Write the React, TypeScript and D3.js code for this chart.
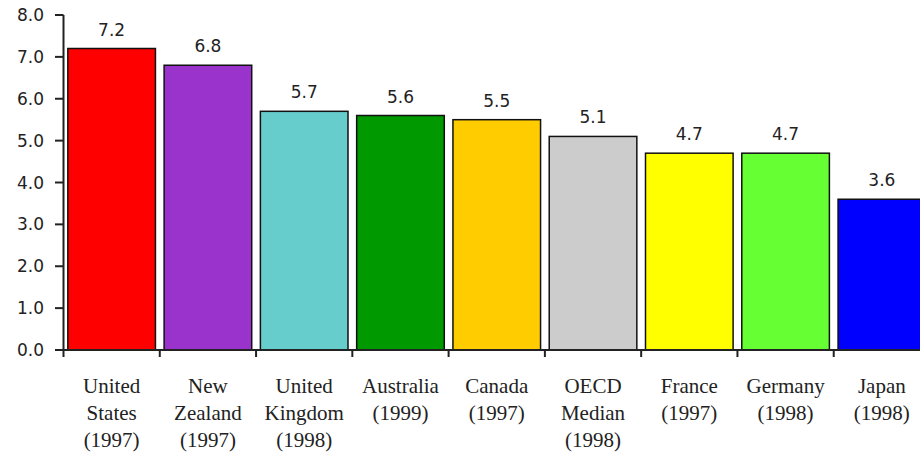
import React from "react";
import * as d3 from "d3";

const countries = [
  ["United", "States", "(1997)"],
  ["New", "Zealand", "(1997)"],
  ["United", "Kingdom", "(1998)"],
  ["Australia", "(1999)"],
  ["Canada", "(1997)"],
  ["OECD", "Median", "(1998)"],
  ["France", "(1997)"],
  ["Germany", "(1998)"],
  ["Japan", "(1998)"],
];
const values = [7.2, 6.8, 5.7, 5.6, 5.5, 5.1, 4.7, 4.7, 3.6];
const barColors = [
  "#ff0000", "#9933cc", "#66cccc", "#009900", "#ffcc00",
  "#cccccc", "#ffff00", "#66ff33", "#0000ff",
];
const yTicks = [0, 1, 2, 3, 4, 5, 6, 7, 8];

const W = 920;
const H = 460;

export default function App() {
  const keys = countries.map((c) => c.join(" "));
  const x = d3.scaleBand().domain(keys).range([63.5, 930]).paddingInner(0.09).paddingOuter(0.045);
  const y = d3.scaleLinear().domain([0, 8]).range([350, 15]);
  const gap = (x.step() - x.bandwidth()) / 2;
  const bounds = keys.map((k) => (x(k) as number) - gap);
  bounds.push((x(keys[keys.length - 1]) as number) + x.bandwidth() + gap);
  const axisColor = "#222";

  return (
    <svg width={W} height={H} style={{ position: "fixed", left: 0, top: 0, background: "#fff" }}>
      {/* bars */}
      {keys.map((k, i) => (
        <g key={k}>
          <rect
            x={x(k)}
            y={y(values[i])}
            width={x.bandwidth()}
            height={y(0) - y(values[i])}
            fill={barColors[i]}
            stroke="#111"
            strokeWidth={1.5}
          />
          <text
            x={(x(k) as number) + x.bandwidth() / 2}
            y={y(values[i]) - 13}
            textAnchor="middle"
            fontFamily="DejaVu Sans"
            fontSize={17}
            fill={axisColor}
          >
            {values[i].toFixed(1)}
          </text>
          {countries[i].map((line, j) => (
            <text
              key={j}
              x={(x(k) as number) + x.bandwidth() / 2}
              y={393 + j * 27}
              textAnchor="middle"
              fontFamily="Liberation Serif"
              fontSize={21}
              fill={axisColor}
            >
              {line}
            </text>
          ))}
        </g>
      ))}
      {/* y axis */}
      <line x1={63.5} x2={63.5} y1={y(8)} y2={y(0)} stroke={axisColor} strokeWidth={2} />
      {yTicks.map((t) => (
        <g key={t}>
          <line x1={55} x2={63.5} y1={y(t)} y2={y(t)} stroke={axisColor} strokeWidth={2} />
          <text
            x={44}
            y={y(t)}
            dy="0.36em"
            textAnchor="end"
            fontFamily="DejaVu Sans"
            fontSize={17}
            fill={axisColor}
          >
            {t.toFixed(1)}
          </text>
        </g>
      ))}
      {/* x axis */}
      <line x1={55} x2={W} y1={y(0)} y2={y(0)} stroke={axisColor} strokeWidth={2} />
      {bounds.map((b, i) => (
        <line key={i} x1={b} x2={b} y1={y(0)} y2={y(0) + 7} stroke={axisColor} strokeWidth={2} />
      ))}
    </svg>
  );
}
